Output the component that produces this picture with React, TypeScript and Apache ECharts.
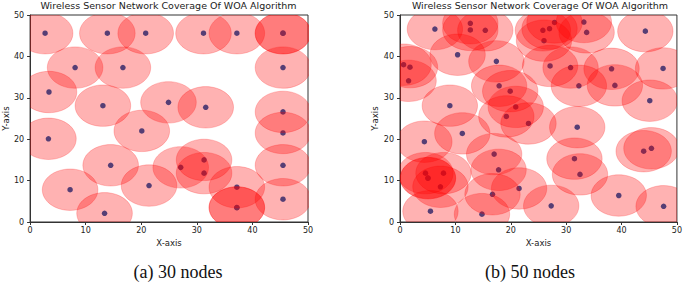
import React, { useEffect, useRef } from "react";
import * as echarts from "echarts";

const TITLE = "Wireless Sensor Network Coverage Of WOA Algorithm";
const CAPTION_A = "(a) 30 nodes";
const CAPTION_B = "(b) 50 nodes";
const X_NAME = "X-axis";
const Y_NAME = "Y-axis";
const RADIUS = 5;

const nodesA_x = [2.7, 13.9, 20.8, 31.2, 37.2, 45.5, 45.5, 8.1, 16.7, 45.5, 3.4, 13.1, 24.9, 31.6, 45.5, 3.3, 20.1, 45.5, 14.5, 27.1, 31.3, 31.3, 45.5, 7.2, 21.4, 37.2, 13.4, 37.2, 37.2, 45.5];
const nodesA_y = [45.6, 45.6, 45.6, 45.6, 45.6, 45.6, 45.6, 37.3, 37.3, 37.3, 31.4, 28.1, 28.9, 27.7, 26.6, 20.1, 22.0, 21.5, 13.7, 13.2, 15.0, 11.8, 13.7, 7.8, 8.8, 8.4, 2.1, 3.5, 3.5, 5.5];

const nodesB_x = [6.3, 12.7, 12.7, 15.4, 25.8, 27.0, 27.9, 26.0, 33.2, 33.7, 44.3, 10.4, 17.4, 0.65, 1.8, 1.55, 27.1, 30.8, 38.2, 47.5, 17.9, 19.9, 32.3, 38.8, 45.1, 9.0, 20.9, 19.2, 23.2, 32.0, 11.25, 4.4, 17.0, 44.0, 45.4, 31.5, 17.8, 4.6, 5.05, 7.85, 7.3, 32.5, 21.5, 16.7, 27.3, 39.5, 47.6, 5.5, 14.8, 5.05];
const nodesB_y = [46.6, 48.0, 46.4, 46.3, 46.3, 46.7, 48.2, 43.8, 48.3, 45.8, 46.1, 40.4, 38.8, 38.0, 37.4, 34.1, 37.7, 37.3, 37.0, 37.1, 32.9, 31.6, 32.9, 33.0, 29.3, 28.1, 27.8, 25.5, 23.8, 22.9, 21.4, 19.4, 16.4, 17.1, 17.8, 15.3, 12.6, 11.8, 10.6, 11.8, 8.5, 11.5, 8.1, 6.7, 3.9, 6.4, 3.8, 2.6, 1.9, 10.6];

const axisTicks = [0, 10, 20, 30, 40, 50];

const FONT = "DejaVu Sans";
const AXIS_COLOR = "#333333";

function pairs(xs: number[], ys: number[]) {
  return xs.map((x, i) => [x, ys[i]]);
}

function makeAxis(kind: "x" | "y", gridIndex: number, nameGap: number) {
  return {
    type: "value",
    gridIndex,
    min: axisTicks[0],
    max: axisTicks[axisTicks.length - 1],
    interval: axisTicks[1] - axisTicks[0],
    name: kind === "x" ? X_NAME : Y_NAME,
    nameLocation: "middle",
    nameGap,
    nameTextStyle: { fontFamily: FONT, fontSize: 8.5, color: "#222" },
    splitLine: { show: false },
    axisLine: { show: true, onZero: false, lineStyle: { color: AXIS_COLOR, width: 1 } },
    axisTick: { show: true, inside: false, length: 3, lineStyle: { color: AXIS_COLOR, width: 1 } },
    axisLabel: {
      fontFamily: FONT,
      fontSize: 8,
      color: "#222",
      margin: kind === "x" ? 4 : 6,
    },
  };
}

function circleSeries(idx: number, data: number[][]) {
  return {
    type: "custom",
    xAxisIndex: idx,
    yAxisIndex: idx,
    clip: true,
    z: 3,
    data,
    renderItem: (params: any, api: any) => {
      const c = api.coord([api.value(0), api.value(1)]);
      const s = api.size([RADIUS, RADIUS]);
      return {
        type: "ellipse",
        shape: { cx: c[0], cy: c[1], rx: s[0], ry: s[1] },
        style: {
          fill: "rgba(255,0,0,0.3)",
          stroke: "rgba(255,0,0,0.3)",
          lineWidth: 0.7,
        },
      };
    },
  };
}

function dotSeries(idx: number, data: number[][]) {
  return {
    type: "scatter",
    xAxisIndex: idx,
    yAxisIndex: idx,
    z: 2,
    symbol: "circle",
    symbolSize: 5.5,
    itemStyle: { color: "#0d5aa8", opacity: 1 },
    data,
  };
}

export default function App() {
  const ref = useRef<HTMLDivElement>(null);
  useEffect(() => {
    if (!ref.current) return;
    const chart = echarts.init(ref.current, null, { renderer: "svg" });
    const grids = [
      { left: 29, top: 15, width: 279, height: 207 },
      { left: 400, top: 15, width: 280, height: 207 },
    ];
    chart.setOption({
      animation: false,
      backgroundColor: "#ffffff",
      title: [
        {
          text: TITLE,
          left: 168.5,
          top: 0,
          textAlign: "center",
          padding: 0,
          textStyle: { fontFamily: FONT, fontSize: 9.5, fontWeight: "normal", color: "#222" },
        },
        {
          text: TITLE,
          left: 540,
          top: 0,
          textAlign: "center",
          padding: 0,
          textStyle: { fontFamily: FONT, fontSize: 9.5, fontWeight: "normal", color: "#222" },
        },
      ],
      grid: grids.map((g) => ({
        ...g,
        show: true,
        borderColor: AXIS_COLOR,
        borderWidth: 1,
        backgroundColor: "transparent",
      })),
      xAxis: [makeAxis("x", 0, 15), makeAxis("x", 1, 15)],
      yAxis: [makeAxis("y", 0, 19), makeAxis("y", 1, 18)],
      series: [
        dotSeries(0, pairs(nodesA_x, nodesA_y)),
        circleSeries(0, pairs(nodesA_x, nodesA_y)),
        dotSeries(1, pairs(nodesB_x, nodesB_y)),
        circleSeries(1, pairs(nodesB_x, nodesB_y)),
      ],
      graphic: [
        {
          type: "text",
          x: 178,
          y: 272,
          style: {
            text: CAPTION_A,
            fontFamily: "Liberation Serif",
            fontSize: 18,
            fill: "#111",
            textAlign: "center",
            textVerticalAlign: "middle",
          },
        },
        {
          type: "text",
          x: 530,
          y: 272,
          style: {
            text: CAPTION_B,
            fontFamily: "Liberation Serif",
            fontSize: 18,
            fill: "#111",
            textAlign: "center",
            textVerticalAlign: "middle",
          },
        },
      ],
    });
    return () => chart.dispose();
  }, []);
  return (
    <div
      ref={ref}
      style={{ position: "fixed", left: 0, top: 0, width: 685, height: 282 }}
    />
  );
}
